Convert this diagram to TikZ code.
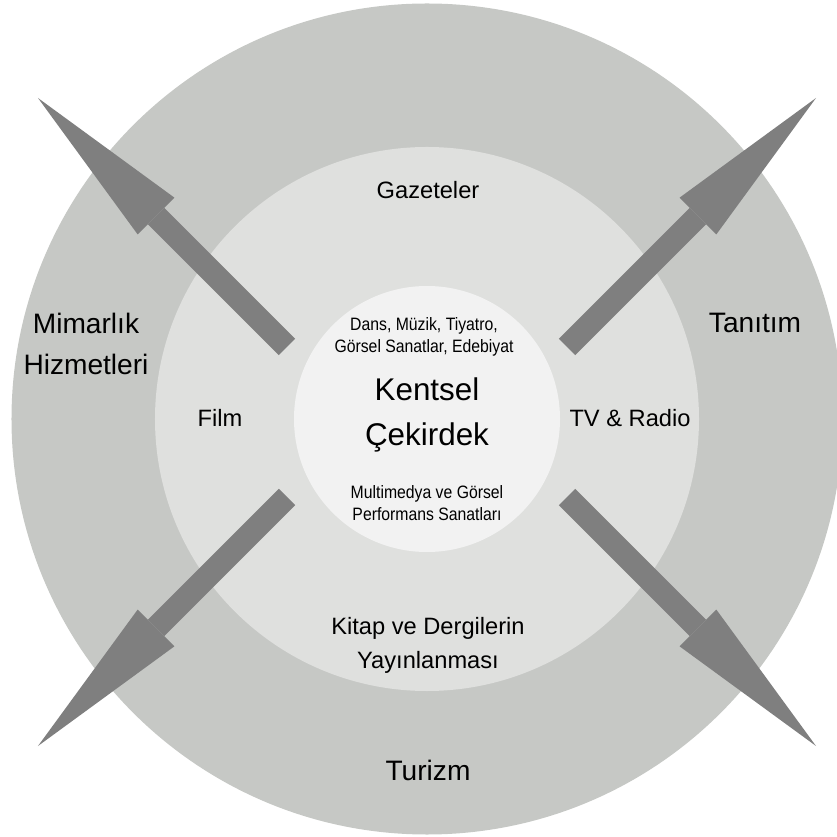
\documentclass[tikz,border=0pt]{standalone}
\usepackage{fontspec}
\setmainfont{Liberation Sans}
\newfontfamily\narrowfont{Liberation Sans}[FakeStretch=0.88]
\usepackage{tikz}
\usetikzlibrary{arrows.meta}
\definecolor{ringout}{HTML}{C6C8C5}
\definecolor{ringmid}{HTML}{DFE0DE}
\definecolor{ringin}{HTML}{F2F2F2}
\definecolor{arrgray}{HTML}{7F7F7F}
\tikzset{every picture/.style={line width=0.75pt}}

\begin{document}
\begin{tikzpicture}[x=0.3mm,y=0.3mm,align=center,
    ring/.style={circle,draw=none,inner sep=0pt},
    bigarrow/.style={draw=arrgray,line width=6.9mm,-{Triangle[length=50.1mm,width=15.6mm,line width=0pt]}},
    small/.style={font=\narrowfont\fontsize{15.3}{18.5}\selectfont},
    mid/.style={font=\fontsize{20.2}{29}\selectfont},
    big/.style={font=\fontsize{24}{35}\selectfont}]
        \useasboundingbox (-427,-417) rectangle (410,419);
        \node[ring,fill=ringout,minimum size=249.3mm] (o) at (0,0) {};
        \node[ring,fill=ringmid,minimum size=163.2mm] (m) at (0,0) {};
        \node[ring,fill=ringin,minimum size=79.8mm] (i) at (0,0) {};

        \coordinate (tne) at (140,72);
        \coordinate (tnw) at (-140,72);
        \coordinate (tsw) at (-140,-78);
        \coordinate (tse) at (140,-78);
        \coordinate (hne) at (389,321);
        \coordinate (hnw) at (-389,321);
        \coordinate (hsw) at (-389,-327);
        \coordinate (hse) at (389,-327);

        \draw
            (tne) edge[bigarrow] (hne)
            (tnw) edge[bigarrow] (hnw)
            (tsw) edge[bigarrow] (hsw)
            (tse) edge[bigarrow] (hse)
            ;

        \node[font=\fontsize{26.8}{38}\selectfont] (core) at (0,4) {Kentsel\\Çekirdek};
        \node[small] (arts) at (-3,82) {Dans, Müzik, Tiyatro,\\Görsel Sanatlar, Edebiyat};
        \node[small] (media) at (0,-84) {Multimedya ve Görsel\\Performans Sanatları};
        \node[mid] (gaz) at (1,229) {Gazeteler};
        \node[mid] (film) at (-207,1) {Film};
        \node[mid] (tv) at (203,1) {TV \& Radio};
        \node[mid] (book) at (1,-226) {Kitap ve Dergilerin\\Yayınlanması};
        \node[big] (arch) at (-341,75) {Mimarlık\\Hizmetleri};
        \node[big] (adv) at (328,96) {Tanıtım};
        \node[font=\fontsize{24}{30}\selectfont] (tour) at (1,-351) {Turizm};
    \end{tikzpicture}
\end{document}
